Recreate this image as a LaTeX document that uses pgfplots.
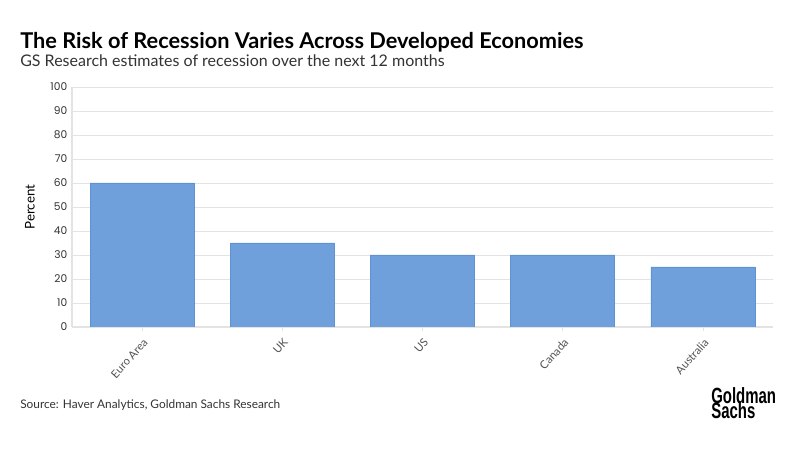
\documentclass[border=0pt]{standalone}
\usepackage{pgfplots}
\pgfplotsset{compat=1.18}
\usepackage{fontspec}
\setmainfont{Lato}
\newfontfamily\tickfont{Poppins}
\newfontfamily\logofont{Liberation Sans}
\usepackage{graphicx}
\definecolor{barblue}{HTML}{6FA0DC}
\definecolor{baredge}{HTML}{5F92D2}
\definecolor{gridgray}{HTML}{E3E3E3}
\definecolor{txt}{HTML}{333333}

\begin{document}
\begin{tikzpicture}[x=0.75pt,y=0.75pt]
\path (0,0) rectangle (800,450);
\node[anchor=base west,inner sep=0,font=\fontsize{16.3}{18}\selectfont\bfseries,text=black] at (20,401) {The Risk of Recession Varies Across Developed Economies};
\node[anchor=base west,inner sep=0,font=\fontsize{12}{14}\selectfont,text=txt] at (20,383) {GS Research estimates of recession over the next 12 months};
\node[anchor=base west,inner sep=0,font=\fontsize{8.9}{10}\selectfont,text=txt] at (20,41) {Source: Haver Analytics, Goldman Sachs Research};
\node[anchor=north west,inner sep=0,align=left,font=\logofont\fontsize{16.5}{12.5}\selectfont\bfseries] at (711,63) {\scalebox{0.68}[1]{Goldman}\\[-1pt]\scalebox{0.68}[1]{Sachs}};

\begin{axis}[
  at={(72*0.75pt,123*0.75pt)}, anchor=south west,
  scale only axis,
  width=525.75pt, height=180pt,
  ybar, bar width=78pt, bar shift=0pt,
  xmin=-0.5, xmax=4.5, ymin=0, ymax=100,
  ytick={0,10,...,100},
  xtick=data,
  xticklabels={Euro Area,UK,US,Canada,Australia},
  x tick label style={rotate=48,anchor=north east,font=\fontsize{8.4}{9}\selectfont,text=txt!85},
  y tick label style={font=\tickfont\fontsize{8}{9}\selectfont,text=txt},
  /pgf/number format/assume math mode=true,
  ymajorgrids, grid style={gridgray,line width=0.6pt},
  axis line style={draw=none},
  axis x line*=bottom,
  x axis line style={draw=gridgray,line width=0.8pt},
  axis y line*=left,
  y axis line style={draw=gridgray,line width=0.8pt},
  major tick length=3pt,
  tick style={gridgray,line width=0.6pt},
  ytick style={draw=none},
  xtick pos=bottom,
  ylabel={Percent}, ylabel style={font=\fontsize{8}{9}\selectfont,text=txt},
  every axis y label/.style={at={(ticklabel cs:0.5)},rotate=90,anchor=south,yshift=5pt},
]
\addplot[fill=barblue,draw=baredge,line width=0.5pt] coordinates {(0,60) (1,35) (2,30) (3,30) (4,25)};
\end{axis}
\end{tikzpicture}
\end{document}
